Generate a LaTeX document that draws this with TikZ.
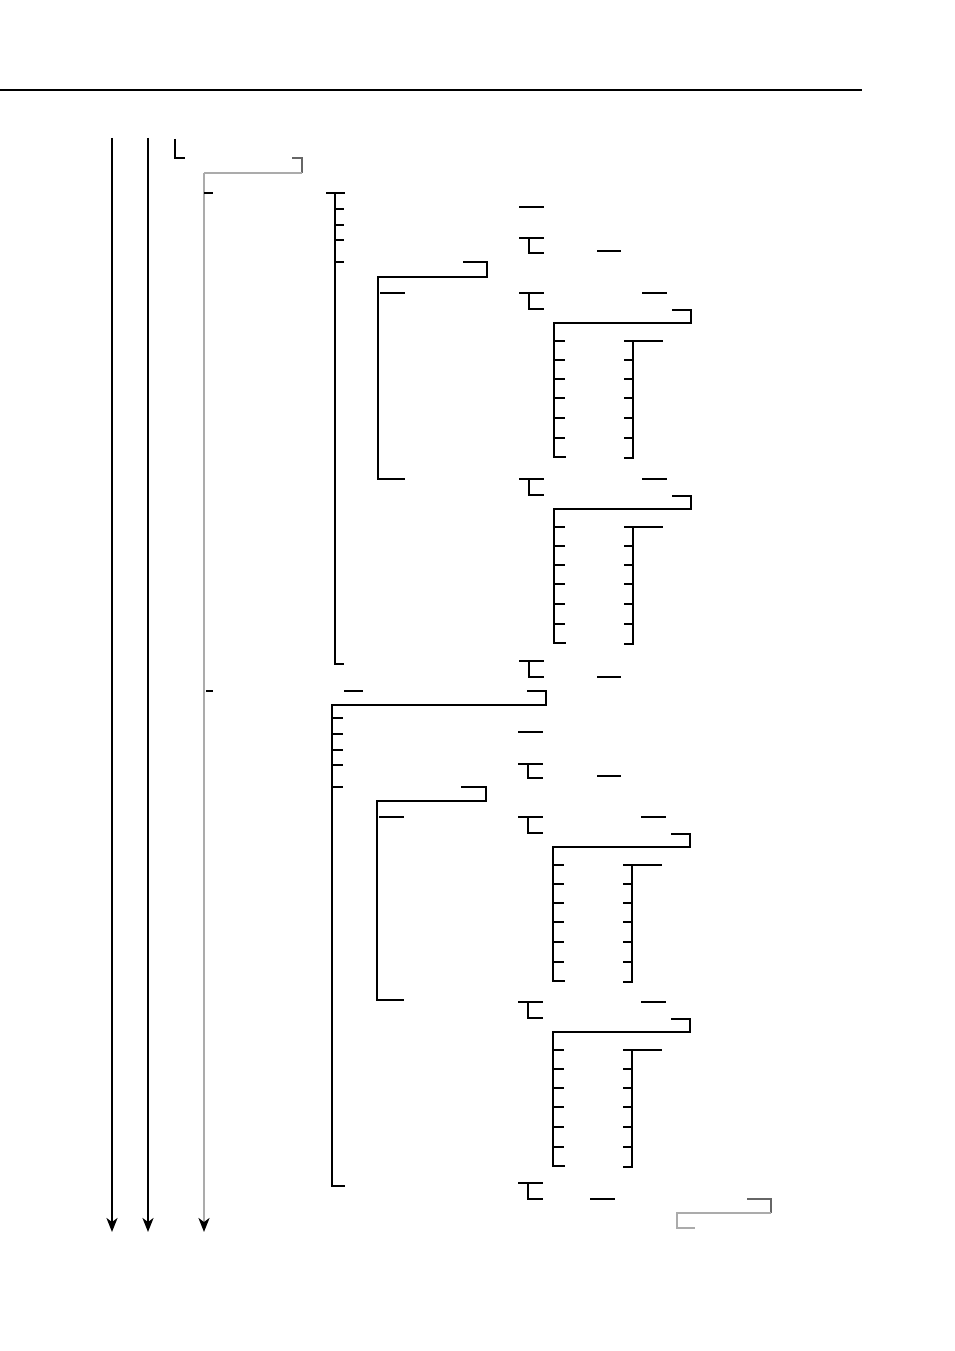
\documentclass[tikz,border=0pt]{standalone}
\usetikzlibrary{arrows.meta}
\begin{document}
\begin{tikzpicture}[
    x=1pt,
    y=-1pt,
    line width=1.9pt,
    lifeline/.style={
      draw,
      -{Stealth[length=14pt, width=11pt, inset=4pt, color=black]}
    },
    greyline/.style={draw=black!33},
    darkline/.style={draw=black!60},
    subblock/.pic={
      \draw (0,0) -- (25,0);
      \draw (10,0) |- (25,16);
      \draw (123,0) -- (148,0);
      \draw (153,17) -| (172,30) -| (35,164) -- (47,164);
      \foreach \ty in {48,67,86,105,125,145}
        \draw (35,\ty) -- (46,\ty);
      \draw (105,48) -- (144,48);
      \draw (114,48) -- (114,165) -- (105,165);
      \foreach \ty in {67,86,105,125,145}
        \draw (105,\ty) -- (114,\ty);
    }
  ]
    \useasboundingbox (0,0) rectangle (954,1351);

    \coordinate (rule_l) at (0, 90);
    \coordinate (rule_r) at (862, 90);
    \coordinate (obj1_top) at (112, 138);
    \coordinate (obj1_end) at (112, 1232);
    \coordinate (obj2_top) at (148, 138);
    \coordinate (obj2_end) at (148, 1232);
    \coordinate (obj3_top) at (204, 173);
    \coordinate (obj3_end) at (204, 1232);

    \draw[line width=2.4pt] (rule_l) -- (rule_r);
    \draw[lifeline] (obj1_top) -- (obj1_end);
    \draw[lifeline] (obj2_top) -- (obj2_end);
    \draw[lifeline, greyline] (obj3_top) -- (obj3_end);

    % create
    \draw (175, 139) -- (175, 158) -- (185, 158);
    \draw[darkline] (292, 158) -- (302, 158) -- (302, 173);
    \draw[greyline] (302, 173) -- (obj3_top);

    % first loop
    \draw (204, 193) -- (213, 193);
    \draw (326, 193) -- (345, 193);
    \draw (335, 193) -- (335, 664) -- (344, 664);
    \foreach \ty in {209, 225, 240, 262}
      \draw (335, \ty) -- (344, \ty);
    \draw (519, 207) -- (544, 207);
    \draw (519, 238) -- (544, 238);
    \draw (529, 238) |- (544, 253);
    \draw (597, 251) -- (621, 251);
    \draw (463, 262) -| (487, 277) -| (378, 479) -- (405, 479);
    \draw (380, 293) -- (405, 293);
    \pic (blk1) at (519, 293) {subblock};
    \pic (blk2) at (519, 479) {subblock};
    \draw (519, 661) -- (544, 661);
    \draw (529, 661) |- (544, 677);
    \draw (597, 677) -- (621, 677);

    % second loop
    \draw (206, 691) -- (213, 691);
    \draw (344, 691) -- (363, 691);
    \draw (527, 691) -| (546, 705) -| (332, 1186) -- (345, 1186);
    \foreach \ty in {718, 734, 750, 765, 787}
      \draw (332, \ty) -- (343, \ty);
    \draw (518, 732) -- (543, 732);
    \draw (518, 764) -- (543, 764);
    \draw (528, 764) |- (543, 778);
    \draw (597, 776) -- (621, 776);
    \draw (461, 787) -| (486, 801) -| (377, 1000) -- (404, 1000);
    \draw (379, 817) -- (404, 817);
    \pic (blk3) at (518, 817) {subblock};
    \pic (blk4) at (518, 1002) {subblock};
    \draw (518, 1183) -- (543, 1183);
    \draw (528, 1183) |- (543, 1199);
    \draw (590, 1199) -- (615, 1199);

    % return
    \draw[darkline] (747, 1199) -- (771, 1199) -- (771, 1213);
    \draw[greyline] (771, 1213) -- (677, 1213) -- (677, 1228) -- (695, 1228);

  \end{tikzpicture}
\end{document}
